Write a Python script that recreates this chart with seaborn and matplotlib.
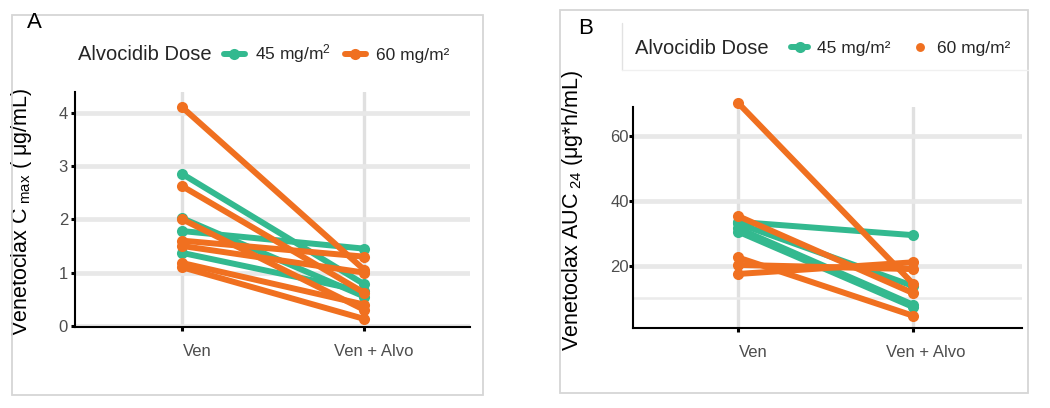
import matplotlib
matplotlib.use("Agg")
import matplotlib.pyplot as plt
import seaborn as sns
import pandas as pd
import numpy as np
from matplotlib.lines import Line2D
from matplotlib.patches import Rectangle
from matplotlib.ticker import FixedLocator
from matplotlib.transforms import ScaledTranslation

# ---------------- data ----------------
time_labels = ["Ven", "Ven + Alvo"]
dose_levels = ["45 mg/m2", "60 mg/m2"]

# Panel A: Cmax (ug/mL)
cmax_dose = ["45 mg/m2"] * 4 + ["60 mg/m2"] * 7
cmax_ven = [2.85, 2.02, 1.78, 1.37, 4.10, 2.62, 2.00, 1.60, 1.50, 1.18, 1.10]
cmax_alvo = [0.78, 0.55, 1.45, 0.65, 1.05, 0.62, 0.30, 1.30, 1.00, 0.40, 0.13]

# Panel B: AUC24 (ug*h/mL)
auc_dose = ["45 mg/m2"] * 4 + ["60 mg/m2"] * 5
auc_ven = [33.5, 33.0, 31.5, 30.5, 70.3, 35.3, 22.5, 20.2, 17.4]
auc_alvo = [29.4, 13.7, 7.9, 7.2, 14.4, 11.5, 4.5, 18.9, 21.0]

cmax_ticks = [0, 1, 2, 3, 4]
auc_ticks = [20, 40, 60]

GREEN = "#33B98F"
ORANGE = "#F07020"
palette = {"45 mg/m2": GREEN, "60 mg/m2": ORANGE}


def long_df(dose, ven, alvo):
    n = len(ven)
    return pd.DataFrame({
        "id": list(range(n)) * 2,
        "Dose": list(dose) * 2,
        "time": [time_labels[0]] * n + [time_labels[1]] * n,
        "value": list(ven) + list(alvo),
    })


dfA = long_df(cmax_dose, cmax_ven, cmax_alvo)
dfB = long_df(auc_dose, auc_ven, auc_alvo)

# ---------------- style ----------------
sns.set_theme(style="white")
plt.rcParams["font.family"] = ["Liberation Sans", "DejaVu Sans"]
plt.rcParams["mathtext.fontset"] = "custom"
plt.rcParams["mathtext.rm"] = "Liberation Sans"
plt.rcParams["mathtext.it"] = "Liberation Sans:italic"
plt.rcParams["mathtext.bf"] = "Liberation Sans:bold"

W, H = 1050, 408
fig = plt.figure(figsize=(W / 100, H / 100), dpi=100)
fig.patch.set_facecolor("white")

axA = fig.add_axes([75 / W, 1 - 327 / H, (470 - 75) / W, (327 - 92) / H])
axB = fig.add_axes([633 / W, 1 - 328 / H, (1022 - 633) / W, (328 - 107) / H])

LW = 4.3
MS = 8

for ax, df in [(axA, dfA), (axB, dfB)]:
    sns.lineplot(data=df, x="time", y="value", hue="Dose", units="id",
                 estimator=None, hue_order=dose_levels, palette=palette,
                 marker="o", markersize=MS, markeredgewidth=0,
                 linewidth=LW, sort=False, legend=False, ax=ax)
    for ln in ax.lines:
        ln.set_clip_on(False)
        ln.set_solid_capstyle("round")
    ax.set_xticks([0, 1])
    ax.set_xticklabels(time_labels)
    ax.set_xlabel("")
    for s in ["top", "right"]:
        ax.spines[s].set_visible(False)
    for s in ["left", "bottom"]:
        ax.spines[s].set_color("black")
        ax.spines[s].set_linewidth(1.5)
    ax.grid(True, axis="y", which="major", color="#E8E8E8", linewidth=3.4)
    ax.grid(True, axis="x", which="major", color="#E0E0E0", linewidth=2.4)
    ax.set_axisbelow(True)
    ax.tick_params(axis="both", which="major", length=3, width=2.2,
                   color="black", labelcolor="#4D4D4D", labelsize=12,
                   bottom=True, left=True)
    ax.tick_params(axis="x", pad=9)
    ax.tick_params(axis="y", pad=2)
    ax.set_facecolor("white")

# Panel A axes
axA.set_xlim(-0.59, 1.58)
axA.set_ylim(-0.02, 4.39)
axA.set_yticks(cmax_ticks)
axA.set_ylabel(r"Venetoclax C$_{\ \mathrm{max}}$ ( μg/mL)", fontsize=15.5, color="black")
axA.yaxis.set_label_coords(-0.105, 0.49)

# Panel B axes
axB.set_xlim(-0.60, 1.623)
axB.set_ylim(0.7, 69.0)
axB.set_yticks(auc_ticks)
axB.yaxis.set_minor_locator(FixedLocator([10]))
axB.grid(True, axis="y", which="minor", color="#EBEBEB", linewidth=1.8)
axB.tick_params(axis="y", which="minor", length=0)
axB.tick_params(axis="y", pad=0)
axB.set_ylabel(r"Venetoclax AUC$_{\ \mathrm{24}}$ (μg*h/mL)", fontsize=15.5, color="black")
axB.yaxis.set_label_coords(-0.123, 0.53)

# tick label offsets (labels sit slightly right of the ticks)
for ax, offs in [(axA, [15, 9]), (axB, [15, 13])]:
    for lbl, o in zip(ax.get_xticklabels(), offs):
        lbl.set_transform(lbl.get_transform() + ScaledTranslation(o / 100, 0, fig.dpi_scale_trans))

# ---------------- panel letters & frames ----------------
fig.text(27 / W, 1 - 23 / H, "A", fontsize=16, va="center", ha="left", color="black")
fig.text(578 / W, 1 - 29 / H, "B", fontsize=16, va="center", ha="left", color="black")

fig.add_artist(Rectangle((12 / W, 1 - 395 / H), (483 - 12) / W, (395 - 15) / H,
                         transform=fig.transFigure, fill=False,
                         edgecolor="#D6D6D6", linewidth=1.3))
fig.add_artist(Rectangle((560 / W, 1 - 393 / H), (1028 - 560) / W, (393 - 10) / H,
                         transform=fig.transFigure, fill=False,
                         edgecolor="#D6D6D6", linewidth=1.3))
fig.add_artist(Line2D([622 / W, 622 / W], [1 - 23 / H, 1 - 70 / H],
                      transform=fig.transFigure, color="#E2E2E2", linewidth=1.0))
fig.add_artist(Line2D([622 / W, 1028 / W], [1 - 70 / H, 1 - 70 / H],
                      transform=fig.transFigure, color="#F0F0F0", linewidth=1.0))

# ---------------- legends ----------------
fig.text(78 / W, 1 - 54 / H, "Alvocidib Dose", fontsize=14.5, va="center", ha="left")
hA = [Line2D([0], [0], color=GREEN, lw=LW, marker="o", ms=MS, mew=0),
      Line2D([0], [0], color=ORANGE, lw=LW, marker="o", ms=MS, mew=0)]
legA = fig.legend(hA, [r"45 mg/m$^2$", "60 mg/m²"], loc="center left",
                  bbox_to_anchor=(224 / W, 1 - 54 / H), ncol=2, frameon=False,
                  fontsize=12.5, handlelength=1.2, handletextpad=0.6,
                  columnspacing=0.8, borderpad=0, borderaxespad=0)

fig.text(635 / W, 1 - 48 / H, "Alvocidib Dose", fontsize=14.5, va="center", ha="left")
hB = [Line2D([0], [0], color=GREEN, lw=LW, marker="o", ms=MS, mew=0),
      Line2D([0], [0], color=ORANGE, lw=0, marker="o", ms=MS * 0.8, mew=0)]
legB = fig.legend(hB, ["45 mg/m²", "60 mg/m²"], loc="center left",
                  bbox_to_anchor=(791 / W, 1 - 48 / H), ncol=2, frameon=False,
                  fontsize=12.5, handlelength=1.0, handletextpad=0.5,
                  columnspacing=1.2, borderpad=0, borderaxespad=0)

fig.savefig("out.png", dpi=100, facecolor="white")
